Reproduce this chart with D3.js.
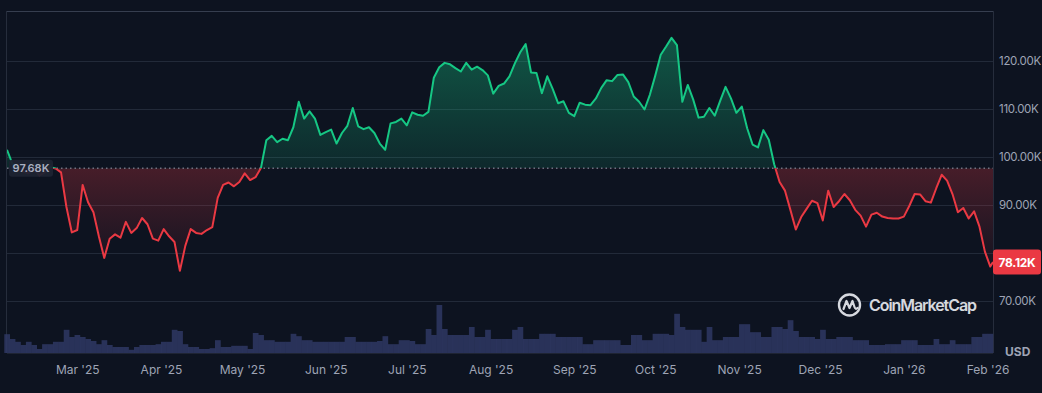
<!DOCTYPE html>
<html lang="en">
<head>
    <meta charset="UTF-8">
    <title>BTC price chart</title>
    <script src="https://cdnjs.cloudflare.com/ajax/libs/d3/7.8.5/d3.min.js"></script>
    <style>
        body {
            margin: 0;
            background-color: #0d1320;
            font-family: Inter, "Noto Sans", Arial, sans-serif;
        }
        svg {
            display: block;
        }
        .axis text {
            fill: #9ea4b5;
            font-size: 12px;
            font-family: Inter, "Noto Sans", Arial, sans-serif;
        }
        .yaxis text {
            font-size: 11.5px;
            letter-spacing: -0.3px;
        }
    </style>
</head>
<body>
<svg width="1042" height="393"></svg>

<script>
    // Price in thousand USD, one reading every 2 days from 3 Feb 2025, then the last close
    const priceK = [
        101.5, 98.6, 97.8, 97.0, 96.6, 97.5, 96.2, 96.8, 97.9, 97.6,
        96.8, 89.6, 84.3, 84.8, 94.2, 90.6, 88.5, 83.5, 79.0, 83.0,
        83.9, 83.2, 86.5, 84.2, 85.2, 87.3, 86.0, 83.0, 82.6, 85.0,
        83.5, 82.3, 76.3, 81.5, 85.0, 84.2, 84.0, 84.8, 85.4, 91.5,
        94.2, 94.7, 93.9, 94.8, 96.6, 95.2, 95.8, 97.7, 103.5, 104.4,
        103.1, 103.8, 103.5, 106.2, 111.5, 108.0, 109.5, 108.0, 104.6, 105.2,
        105.7, 102.8, 105.0, 106.5, 110.2, 106.4, 105.8, 106.2, 105.0, 102.8,
        101.5, 107.0, 107.3, 108.0, 106.6, 109.3, 108.8, 108.6, 109.4, 116.5,
        118.7, 119.6, 119.3, 118.5, 117.8, 119.6, 118.2, 118.8, 118.1, 117.0,
        113.2, 114.8, 115.3, 116.8, 119.5, 121.8, 123.5, 117.6, 117.5, 113.3,
        116.8, 114.2, 111.2, 111.6, 109.2, 108.5, 111.3, 110.9, 110.8, 112.2,
        114.4, 116.0, 115.8, 117.1, 117.2, 115.6, 112.6, 111.5, 109.9, 113.0,
        117.0, 121.3, 123.0, 124.8, 123.3, 111.5, 115.0, 112.0, 108.2, 108.4,
        110.2, 108.6, 111.7, 114.6, 112.2, 109.2, 110.5, 106.0, 102.6, 102.0,
        105.6, 103.6, 98.5, 94.8, 93.0, 89.0, 84.9, 87.5, 89.2, 90.9,
        90.4, 86.8, 93.0, 89.6, 90.8, 92.3, 91.0, 89.0, 87.8, 85.5,
        88.0, 88.4, 87.6, 87.3, 87.2, 87.2, 87.6, 89.8, 92.3, 92.2,
        90.8, 90.5, 93.5, 96.3, 95.1, 92.3, 88.5, 89.4, 87.2, 88.7,
        85.5, 80.3, 77.2, 78.12
    ];

    // Traded volume, billion USD, same 2-day readings
    const volumeB = [
        47, 35, 28, 20, 28, 20, 10, 22, 22, 28,
        28, 58, 40, 45, 40, 35, 30, 22, 32, 20,
        15, 15, 15, 8, 15, 20, 20, 20, 22, 28,
        28, 58, 55, 22, 15, 15, 10, 10, 12, 32,
        15, 15, 18, 18, 18, 10, 50, 45, 32, 32,
        28, 28, 28, 48, 42, 32, 32, 28, 28, 28,
        28, 28, 28, 40, 40, 28, 28, 28, 28, 30,
        42, 22, 22, 32, 32, 30, 22, 22, 60, 45,
        120, 60, 45, 45, 45, 45, 65, 40, 40, 58,
        35, 35, 35, 35, 58, 65, 35, 35, 35, 48,
        48, 48, 40, 40, 40, 40, 40, 22, 22, 32,
        32, 32, 32, 32, 20, 20, 45, 45, 32, 32,
        48, 48, 48, 45, 98, 65, 58, 58, 58, 28,
        65, 32, 32, 40, 40, 40, 72, 72, 52, 52,
        40, 40, 65, 65, 60, 82, 55, 40, 40, 40,
        35, 58, 35, 35, 40, 40, 40, 32, 32, 32,
        20, 20, 20, 22, 22, 22, 32, 32, 32, 20,
        20, 20, 35, 22, 22, 32, 22, 22, 22, 40,
        40, 48, 48
    ];

    const openPrice = 97.68;     // reference price (dotted line)
    const yTicks = [70, 80, 90, 100, 110, 120];
    const monthTicks = ["2025-03-01", "2025-04-01", "2025-05-01", "2025-06-01", "2025-07-01", "2025-08-01",
        "2025-09-01", "2025-10-01", "2025-11-01", "2025-12-01", "2026-01-01", "2026-02-01"];

    const startDate = new Date(2025, 1, 3);
    const endDate = new Date(2026, 1, 3);
    const dates = d3.timeDay.range(startDate, endDate, 2);
    dates.push(endDate);

    const prices = dates.map((d, i) => ({ date: d, value: priceK[i] }));
    const volumes = volumeB.map((v, i) => ({ date: dates[i], value: v }));

    const green = "#16c784";
    const red = "#ea3943";

    const svg = d3.select("svg");
    const plotLeft = 7, plotRight = 993, plotTop = 11, plotBottom = 353;

    const x = d3.scaleTime().domain([startDate, endDate]).range([plotLeft, plotRight]);
    const y = d3.scaleLinear().domain([59.2, 130.4]).range([plotBottom, plotTop]);
    const yVol = d3.scaleLinear().domain([0, 200]).range([plotBottom, plotBottom - 80]);
    const yBase = y(openPrice);

    const defs = svg.append("defs");

    const gUp = defs.append("linearGradient")
        .attr("id", "gUp").attr("gradientUnits", "userSpaceOnUse")
        .attr("x1", 0).attr("x2", 0).attr("y1", y(125)).attr("y2", yBase);
    gUp.append("stop").attr("offset", 0).attr("stop-color", green).attr("stop-opacity", 0.38);
    gUp.append("stop").attr("offset", 1).attr("stop-color", green).attr("stop-opacity", 0.12);

    const gDown = defs.append("linearGradient")
        .attr("id", "gDown").attr("gradientUnits", "userSpaceOnUse")
        .attr("x1", 0).attr("x2", 0).attr("y1", yBase).attr("y2", y(76));
    gDown.append("stop").attr("offset", 0).attr("stop-color", red).attr("stop-opacity", 0.26);
    gDown.append("stop").attr("offset", 1).attr("stop-color", red).attr("stop-opacity", 0.02);

    defs.append("clipPath").attr("id", "clipUp")
        .append("rect").attr("x", plotLeft).attr("y", plotTop)
        .attr("width", plotRight - plotLeft).attr("height", yBase - plotTop);
    defs.append("clipPath").attr("id", "clipDown")
        .append("rect").attr("x", plotLeft).attr("y", yBase)
        .attr("width", plotRight - plotLeft).attr("height", plotBottom - yBase);

    // gridlines
    svg.append("g")
        .selectAll("line")
        .data(yTicks)
        .enter()
        .append("line")
        .attr("x1", plotLeft).attr("x2", plotRight)
        .attr("y1", d => Math.round(y(d)) + 0.5).attr("y2", d => Math.round(y(d)) + 0.5)
        .attr("stroke", "#222a39")
        .attr("stroke-width", 1);

    // frame
    svg.append("line").attr("x1", plotLeft).attr("x2", plotRight).attr("y1", plotTop + 0.5).attr("y2", plotTop + 0.5)
        .attr("stroke", "#363e4f");
    svg.append("line").attr("x1", plotLeft - 0.5).attr("x2", plotLeft - 0.5).attr("y1", plotTop).attr("y2", plotBottom)
        .attr("stroke", "#262d3c");
    svg.append("line").attr("x1", plotRight + 0.5).attr("x2", plotRight + 0.5).attr("y1", plotTop).attr("y2", plotBottom)
        .attr("stroke", "#262d3c");
    svg.append("line").attr("x1", plotLeft).attr("x2", plotRight).attr("y1", plotBottom + 0.5).attr("y2", plotBottom + 0.5)
        .attr("stroke", "#1e2433");

    // volume bars
    const barW = x(d3.timeDay.offset(startDate, 2)) - x(startDate);
    svg.append("g")
        .selectAll("rect")
        .data(volumes)
        .enter()
        .append("rect")
        .attr("x", d => x(d.date) - barW / 2)
        .attr("y", d => yVol(d.value))
        .attr("width", barW + 0.3)
        .attr("height", d => plotBottom - yVol(d.value))
        .attr("fill", "#2f3864")
        .attr("opacity", 0.85);

    // areas and line, split at the reference price
    const area = d3.area()
        .x(d => x(d.date))
        .y0(yBase)
        .y1(d => y(d.value));
    const line = d3.line()
        .x(d => x(d.date))
        .y(d => y(d.value));

    svg.append("path").datum(prices).attr("d", area)
        .attr("fill", "url(#gUp)").attr("clip-path", "url(#clipUp)");
    svg.append("path").datum(prices).attr("d", area)
        .attr("fill", "url(#gDown)").attr("clip-path", "url(#clipDown)");

    svg.append("line")
        .attr("x1", plotLeft).attr("x2", plotRight)
        .attr("y1", yBase).attr("y2", yBase)
        .attr("stroke", "#9aa0b0")
        .attr("stroke-width", 1)
        .attr("stroke-dasharray", "1.5,3");

    svg.append("path").datum(prices).attr("d", line)
        .attr("fill", "none").attr("stroke", green).attr("stroke-width", 2)
        .attr("stroke-linejoin", "round").attr("clip-path", "url(#clipUp)");
    svg.append("path").datum(prices).attr("d", line)
        .attr("fill", "none").attr("stroke", red).attr("stroke-width", 2)
        .attr("stroke-linejoin", "round").attr("clip-path", "url(#clipDown)");

    // reference price tag
    svg.append("rect")
        .attr("x", 9).attr("y", yBase - 8.5).attr("width", 44).attr("height", 17).attr("rx", 3)
        .attr("fill", "#1d2331").attr("opacity", 0.95);
    svg.append("text")
        .attr("x", 31).attr("y", yBase + 4)
        .attr("text-anchor", "middle")
        .attr("font-size", 11).attr("font-weight", 600)
        .attr("fill", "#a9afc0")
        .text(openPrice.toFixed(2) + "K");

    // y axis
    const lastPrice = priceK[priceK.length - 1];
    const yAxis = d3.axisRight(y)
        .tickValues(yTicks.filter(t => Math.abs(y(t) - y(lastPrice)) > 14))
        .tickFormat(d => d.toFixed(2) + "K")
        .tickSize(0)
        .tickPadding(6);
    svg.append("g").attr("class", "axis yaxis")
        .attr("transform", `translate(${plotRight},0)`)
        .call(yAxis)
        .call(g => g.select(".domain").remove());

    // current price tag
    svg.append("rect")
        .attr("x", plotRight).attr("y", y(lastPrice) - 12.5).attr("width", 48).attr("height", 25).attr("rx", 3)
        .attr("fill", red);
    svg.append("text")
        .attr("x", plotRight + 24).attr("y", y(lastPrice) + 4.5)
        .attr("text-anchor", "middle")
        .attr("font-size", 12).attr("font-weight", 700)
        .attr("letter-spacing", "-0.3px")
        .attr("fill", "#ffffff")
        .text(lastPrice.toFixed(2) + "K");

    svg.append("text")
        .attr("x", 1005).attr("y", 356)
        .attr("font-size", 12).attr("font-weight", 700)
        .attr("fill", "#9ea4b5")
        .text("USD");

    // x axis
    const xAxis = d3.axisBottom(x)
        .tickValues(monthTicks.map(d => d3.timeParse("%Y-%m-%d")(d)))
        .tickFormat(d3.timeFormat("%b '%y"))
        .tickSize(0)
        .tickPadding(10);
    svg.append("g").attr("class", "axis")
        .attr("transform", `translate(0,${plotBottom + 2})`)
        .call(xAxis)
        .call(g => g.select(".domain").remove());

    // watermark
    const logo = svg.append("g").attr("transform", "translate(849.5,305)").attr("opacity", 0.92);
    logo.append("circle").attr("r", 10.5).attr("fill", "none").attr("stroke", "#e8eaf0").attr("stroke-width", 2.4);
    logo.append("path")
        .attr("d", "M-6,4 L-3,-4 L0,3 L3,-4 L5,2 Q6,5 8,3")
        .attr("fill", "none").attr("stroke", "#e8eaf0").attr("stroke-width", 2.2)
        .attr("stroke-linejoin", "round").attr("stroke-linecap", "round");
    svg.append("text")
        .attr("x", 869).attr("y", 311)
        .attr("font-size", 16).attr("font-weight", 600)
        .attr("textLength", 108)
        .attr("fill", "#e8eaf0")
        .attr("opacity", 0.92)
        .text("CoinMarketCap");
</script>
</body>
</html>
